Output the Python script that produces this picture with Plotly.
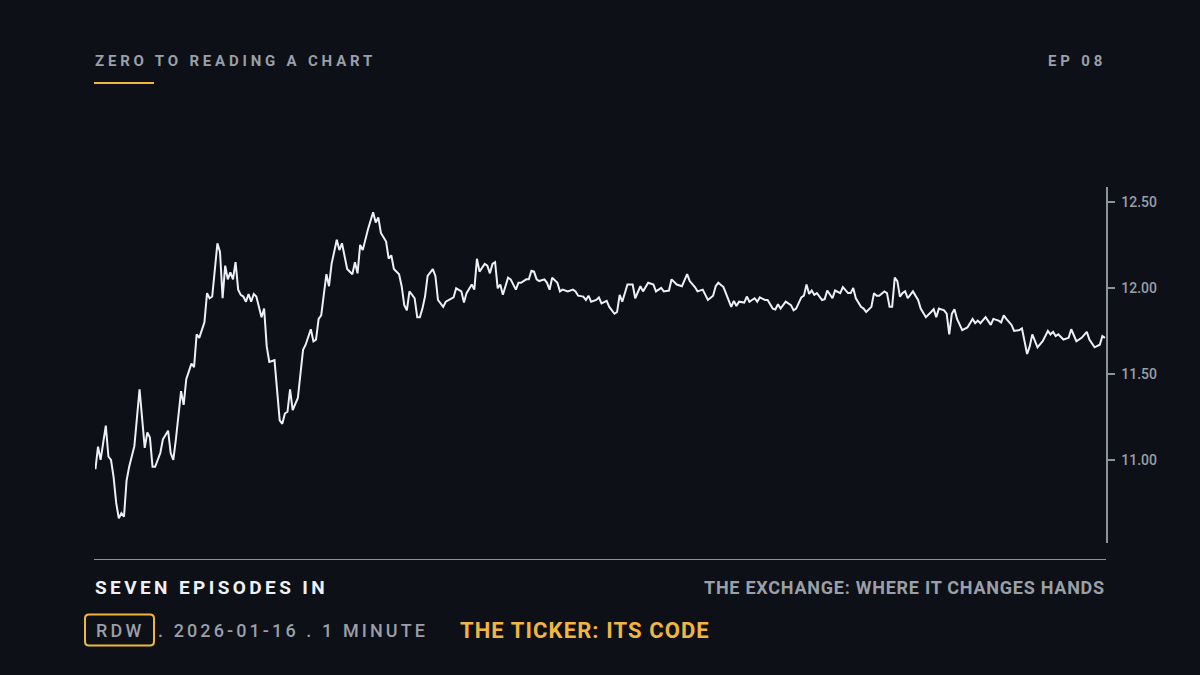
import plotly.graph_objects as go
import pandas as pd

# ---- data: minutes since open (1-minute bars) and price ----
minutes = [0,1,2,4,5,6,7,8,9,10,11,12,13,15,17,18,19,20,21,22,23,25,26,28,29,30,31,33,34,35,
           37,38,39,40,42,43,44,45,46,47,48,49,50,51,52,53,54,55,56,57,58,59,60,61,62,64,65,66,67,69,
           71,72,73,74,75,76,78,80,81,83,84,85,86,87,89,90,91,93,94,95,97,99,100,101,102,103,105,107,108,109,
           110,112,113,114,115,116,117,118,119,120,121,123,124,125,126,127,128,130,131,132,134,135,136,138,139,141,
           142,143,145,146,147,148,150,151,152,153,154,155,156,157,159,160,162,163,164,166,167,168,169,170,
           171,173,174,175,176,178,179,180,182,184,185,186,188,189,190,191,193,194,195,197,198,200,201,202,203,
           205,207,208,210,211,213,215,216,218,219,221,222,224,226,228,229,
           231,232,234,236,238,239,240,242,243,245,246,247,248,250,251,252,254,255,256,258,259,261,262,263,264,
           266,268,269,270,272,273,274,275,276,277,278,280,281,282,284,285,287,288,290,291,292,293,295,296,297,
           299,300,301,302,304,305,306,307,308,309,310,311,312,313,315,317,318,320,322,
           323,324,325,327,328,329,330,331,332,334,336,338,339,340,341,343,345,346,348,349,350,351,353,354,356,
           357,359,360,361,363,365,366,367,368,369,370,371,373,375,376,378,380,382,383,385,387,388,389]
prices = [10.946,11.077,11.00,11.20,11.02,11.00,10.90,10.75,10.66,10.69,10.67,10.88,10.96,11.08,11.41,11.23,11.07,11.16,11.13,10.96,
          10.96,11.04,11.12,11.17,11.04,11.00,11.12,11.40,11.32,11.47,11.56,11.54,11.73,11.71,11.80,11.97,11.94,11.95,12.10,12.26,
          12.21,11.94,12.13,12.05,12.09,12.05,12.15,11.99,11.96,11.95,11.92,11.965,11.92,11.965,11.95,11.83,11.88,11.66,11.57,11.58,
          11.23,11.21,11.27,11.28,11.41,11.29,11.36,11.64,11.67,11.76,11.69,11.70,11.82,11.84,12.08,12.01,12.14,12.28,12.22,12.26,
          12.11,12.08,12.15,12.085,12.25,12.22,12.34,12.44,12.38,12.41,
          12.32,12.27,12.17,12.19,12.11,12.095,12.08,12.01,11.90,11.87,11.98,11.94,11.83,11.83,11.88,11.95,12.07,12.11,12.07,11.93,
          11.89,11.92,11.93,11.945,11.998,11.98,
          11.915,11.97,12.02,11.99,12.17,12.095,12.14,12.13,12.085,12.14,12.15,11.998,12.02,11.96,12.06,12.05,11.99,12.03,12.03,12.05,
          12.05,12.10,12.095,12.05,
          12.04,12.05,12.03,11.99,12.06,12.03,11.98,11.99,11.98,11.99,11.98,11.955,11.95,11.93,11.955,11.92,11.93,11.945,11.91,11.925,
          11.89,11.85,11.86,11.96,11.92,
          12.02,12.02,11.94,12.01,11.98,12.03,12.02,11.98,12.00,11.98,11.985,12.05,12.02,12.01,12.08,12.04,
          12.005,11.98,11.99,11.93,11.955,12.01,12.03,12.005,11.97,11.89,11.925,11.895,11.92,11.915,11.95,11.92,11.94,11.92,11.945,11.93,
          11.93,11.88,11.875,11.905,11.88,
          11.92,11.90,11.87,11.88,11.945,11.955,12.02,11.965,11.985,11.96,11.97,11.93,11.935,11.985,11.94,11.985,11.97,12.005,11.97,11.97,
          12.00,11.94,11.89,11.88,11.86,
          11.89,11.97,11.955,11.955,11.98,11.97,11.89,11.89,12.06,12.04,11.95,11.97,11.98,11.94,11.98,11.93,11.88,11.83,11.86,
          11.876,11.83,11.88,11.87,11.85,11.73,11.85,11.876,11.82,11.755,11.77,11.82,11.795,11.81,11.795,11.83,11.785,11.82,11.81,11.80,
          11.84,11.82,11.785,11.75,11.755,
          11.765,11.616,11.66,11.73,11.655,11.69,11.72,11.75,11.73,11.745,11.72,11.73,11.70,11.71,11.76,11.69,11.71,11.745,11.70,11.655,
          11.67,11.72,11.71]

y_ticks = [11.0, 11.5, 12.0, 12.5]
session_open = "2026-01-16 09:30"

title_text = "ZERO TO READING A CHART"
episode_text = "EP 08"
series_text = "SEVEN EPISODES IN"
next_text = "THE EXCHANGE: WHERE IT CHANGES HANDS"
ticker_text = "RDW"
meta_text = ". 2026-01-16 . 1 MINUTE"
topic_text = "THE TICKER: ITS CODE"

# ---- styling ----
BG = "#0d1017"
GRAY = "#9a9fa8"
ORANGE = "#f2b640"
WHITE = "#eef0f3"
FONT = "Roboto"

W, H = 1200, 675
L, R, T, B = 95, 1106, 187, 543  # plot area in pixels


def px(x):
    return (x - L) / (R - L)


def py(y):
    return (B - y) / (B - T)


times = pd.Timestamp(session_open) + pd.to_timedelta(minutes, unit="min")
t0 = pd.Timestamp(session_open)

fig = go.Figure()
fig.add_trace(go.Scatter(
    x=times, y=prices, mode="lines",
    line=dict(color=WHITE, width=2),
    hoverinfo="skip", showlegend=False,
))

fig.update_layout(
    width=W, height=H,
    paper_bgcolor=BG, plot_bgcolor=BG,
    margin=dict(l=L, r=W - R, t=T, b=H - B, pad=0),
    showlegend=False,
    xaxis=dict(
        range=[t0 - pd.Timedelta(seconds=10), t0 + pd.Timedelta(minutes=389.4)],
        visible=False, showgrid=False, zeroline=False,
    ),
    yaxis=dict(
        range=[10.517, 12.587],
        side="right",
        showgrid=False, zeroline=False,
        showline=True, linecolor="#8d929b", linewidth=1.5,
        ticks="outside", ticklen=7, tickwidth=1.5, tickcolor="#8d929b",
        tickvals=y_ticks, tickformat=".2f",
        tickfont=dict(family=FONT, size=14, color=GRAY, weight=500),
        ticklabelstandoff=4,
    ),
)

annotations = []


def ann(text, x, y, xanchor, size, color, spacing, weight="bold"):
    annotations.append(dict(
        text=f'<span style="letter-spacing:{spacing}px">{text}</span>',
        x=px(x), y=py(y), xref="paper", yref="paper",
        xanchor=xanchor, yanchor="middle", showarrow=False,
        font=dict(family=FONT, size=size, color=color, weight=weight),
    ))


ann(title_text, 93, 61, "left", 15, GRAY, 3.8)
ann(episode_text, 1108, 61, "right", 15, GRAY, 3.8)
ann(series_text, 93, 587, "left", 19, WHITE, 3.4)
ann(next_text, 1107, 587, "right", 18, GRAY, 0.75)
ann(ticker_text, 94, 630, "left", 18, GRAY, 3.2, weight=500)
ann(meta_text, 156, 630, "left", 18, GRAY, 3.1, weight=500)
ann(topic_text, 458, 630, "left", 22, ORANGE, 1.1)

fig.update_layout(annotations=annotations)

shapes = []
# orange underline under the title
shapes.append(dict(type="line", xref="paper", yref="paper",
                   x0=px(94), x1=px(154), y0=py(83), y1=py(83),
                   line=dict(color=ORANGE, width=2)))
# separator line under the chart
shapes.append(dict(type="line", xref="paper", yref="paper",
                   x0=px(94), x1=px(1106), y0=py(559.5), y1=py(559.5),
                   line=dict(color="#8d929b", width=1.2)))
# rounded box around the ticker
x0, x1, y0, y1, r = 85, 154, 614.5, 645.5, 4
path = (f"M {px(x0 + r)},{py(y0)} L {px(x1 - r)},{py(y0)} Q {px(x1)},{py(y0)} {px(x1)},{py(y0 + r)} "
        f"L {px(x1)},{py(y1 - r)} Q {px(x1)},{py(y1)} {px(x1 - r)},{py(y1)} "
        f"L {px(x0 + r)},{py(y1)} Q {px(x0)},{py(y1)} {px(x0)},{py(y1 - r)} "
        f"L {px(x0)},{py(y0 + r)} Q {px(x0)},{py(y0)} {px(x0 + r)},{py(y0)} Z")
shapes.append(dict(type="path", xref="paper", yref="paper", path=path,
                   line=dict(color=ORANGE, width=2)))
fig.update_layout(shapes=shapes)

fig.write_html(
    "out.html",
    config={"displayModeBar": False, "staticPlot": True},
    post_script=f"document.body.style.margin='0';document.body.style.background='{BG}';",
)
